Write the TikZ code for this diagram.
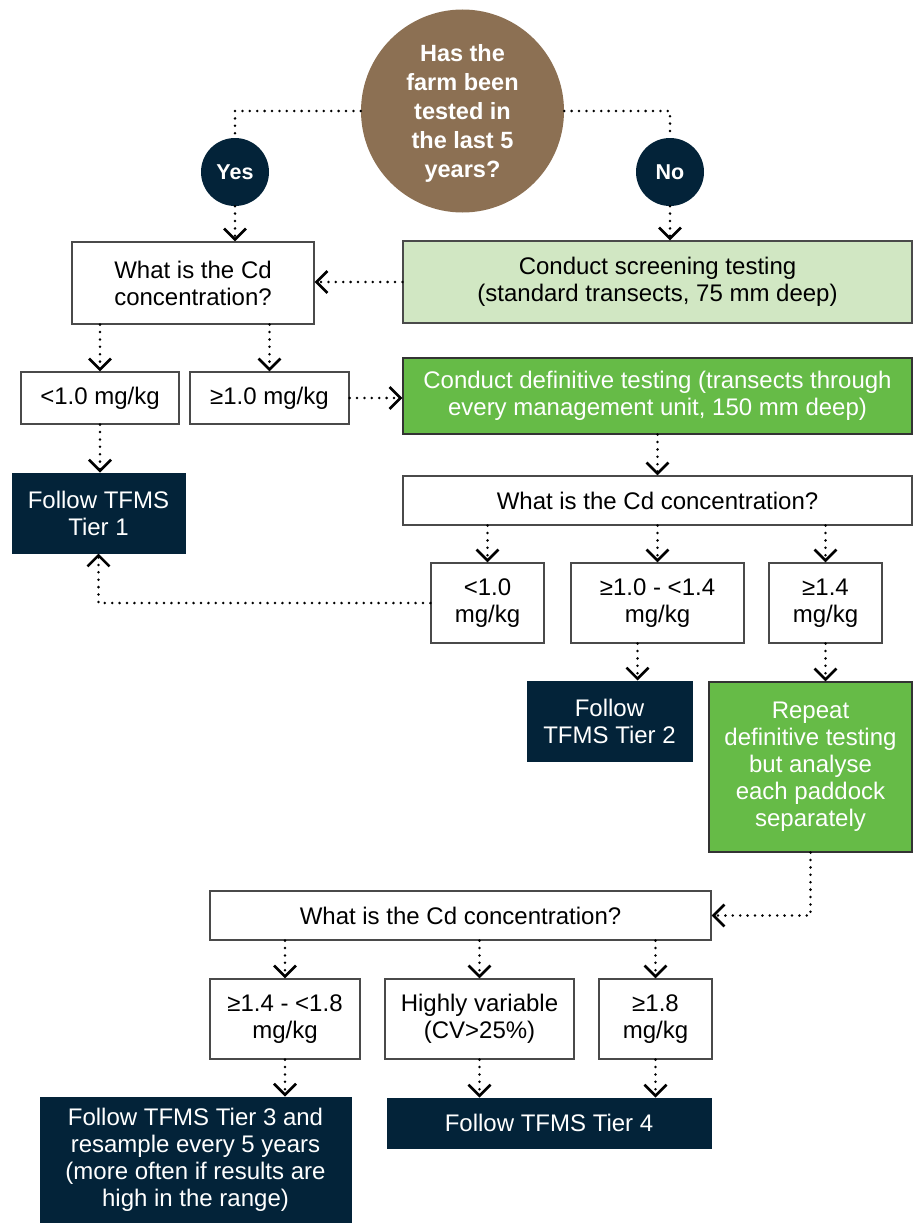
\documentclass[tikz,border=0pt]{standalone}
\usepackage{fontspec}
\setmainfont{Liberation Sans}
\usetikzlibrary{arrows.meta}
\definecolor{brownc}{HTML}{8C7053}
\definecolor{navy}{HTML}{032339}
\definecolor{lgreen}{HTML}{D1E7C3}
\definecolor{dgreen}{HTML}{66BB47}
\definecolor{bordergray}{HTML}{4A4A4A}
\tikzset{
  txt/.style={font=\fontsize{24}{27}\selectfont, align=center, inner sep=0pt},
  wbox/.style={txt, draw=bordergray, line width=1.2pt, fill=white, text=black},
  lgbox/.style={txt, draw=bordergray, line width=1.2pt, fill=lgreen, text=black},
  dgbox/.style={txt, draw=black!80, line width=1.2pt, fill=dgreen, text=white},
  navybox/.style={txt, draw=navy, line width=1pt, fill=navy, text=white},
  dotline/.style={line width=2.8pt, line cap=round, dash pattern=on 0pt off 7.4pt},
  arr/.style={dotline, -{Straight Barb[length=11pt, width=22pt, line width=2.6pt]}},
}
\begin{document}
\begin{tikzpicture}[x=1pt, y=-1pt]
\useasboundingbox (0,0) rectangle (919,1223);
% top question
\node[circle, fill=brownc, minimum size=203pt, inner sep=0pt, text=white, text depth=0pt,
      font=\bfseries\fontsize{23.5}{29.2}\selectfont, align=center] (top) at (462.5,111)
      {Has the\\farm been\\tested in\\the last 5\\years?};
\node[circle, fill=navy, minimum size=68pt, inner sep=0pt, text=white,
      font=\bfseries\fontsize{21.5}{25}\selectfont] (yes) at (235,172) {Yes};
\node[circle, fill=navy, minimum size=68pt, inner sep=0pt, text=white,
      font=\bfseries\fontsize{21.5}{25}\selectfont] (no) at (670,172) {No};
% level 1
\node[wbox, minimum width=242pt, minimum height=82pt] (q1) at (193,283) {What is the Cd\\concentration?};
\node[lgbox, minimum width=509pt, minimum height=82pt] (screen) at (657.5,282) {Conduct screening testing\\(standard transects, 75 mm deep)};
\node[wbox, minimum width=158pt, minimum height=52pt] (lt1) at (100,398) {<1.0 mg/kg};
\node[wbox, minimum width=159pt, minimum height=52pt] (ge1) at (269.5,398) {≥1.0 mg/kg};
\node[dgbox, minimum width=509pt, minimum height=76pt] (defin) at (657.5,396) {Conduct definitive testing (transects through\\every management unit, 150 mm deep)};
\node[navybox, minimum width=173pt, minimum height=80pt] (tier1) at (98.5,513) {Follow TFMS\\Tier 1};
% level 2
\node[wbox, minimum width=509pt, minimum height=49pt] (q2) at (657.5,500.5) {What is the Cd concentration?};
\node[wbox, minimum width=113pt, minimum height=80pt] (b21) at (487.5,603) {<1.0\\mg/kg};
\node[wbox, minimum width=173pt, minimum height=80pt] (b22) at (657.5,603) {≥1.0 - <1.4\\mg/kg};
\node[wbox, minimum width=113pt, minimum height=80pt] (b23) at (825.5,603) {≥1.4\\mg/kg};
\node[navybox, minimum width=165pt, minimum height=80pt] (tier2) at (609.5,721) {Follow\\TFMS Tier 2};
\node[dgbox, minimum width=203pt, minimum height=170pt] (repeat) at (810.5,767) {Repeat\\definitive testing\\but analyse\\each paddock\\separately};
% level 3
\node[wbox, minimum width=501pt, minimum height=49pt] (q3) at (460.5,915.5) {What is the Cd concentration?};
\node[wbox, minimum width=150pt, minimum height=80pt] (b31) at (285,1019) {≥1.4 - <1.8\\mg/kg};
\node[wbox, minimum width=189pt, minimum height=80pt] (b32) at (479.5,1019) {Highly variable\\(CV>25\%)};
\node[wbox, minimum width=113pt, minimum height=80pt] (b33) at (655.5,1019) {≥1.8\\mg/kg};
\node[navybox, minimum width=311pt, minimum height=125pt] (tier3) at (195.5,1159.5) {Follow TFMS Tier 3 and\\resample every 5 years\\(more often if results are\\high in the range)};
\node[navybox, minimum width=324pt, minimum height=50pt] (tier4) at (549,1123) {Follow TFMS Tier 4};
% connectors
\draw[dotline] (top.west) -| (yes.north);
\draw[dotline] (top.east) -| (no.north);
\draw[arr] (yes.south) -- (yes.south |- q1.north);
\draw[arr] (no.south) -- (no.south |- screen.north);
\draw[arr] (screen.west) -- (screen.west -| q1.east);
\draw[arr] (lt1.north |- q1.south) -- (lt1.north);
\draw[arr] (ge1.north |- q1.south) -- (ge1.north);
\draw[arr] (ge1.east) -- (ge1.east -| defin.west);
\draw[arr] (lt1.south) -- (lt1.south |- tier1.north);
\draw[arr] (defin.south) -- (q2.north);
\draw[arr] (b21.north |- q2.south) -- (b21.north);
\draw[arr] (b22.north |- q2.south) -- (b22.north);
\draw[arr] (b23.north |- q2.south) -- (b23.north);
\draw[arr] (b21.west) -| (tier1.south);
\draw[arr] ([xshift=-20pt]b22.south) -- ([xshift=-20pt]b22.south |- tier2.north);
\draw[arr] (b23.south) -- (b23.south |- repeat.north);
\draw[arr] (repeat.south) |- (q3.east);
\draw[arr] (b31.north |- q3.south) -- (b31.north);
\draw[arr] (b32.north |- q3.south) -- (b32.north);
\draw[arr] (b33.north |- q3.south) -- (b33.north);
\draw[arr] (b31.south) -- (b31.south |- tier3.north);
\draw[arr] (b32.south) -- (b32.south |- tier4.north);
\draw[arr] (b33.south) -- (b33.south |- tier4.north);
\end{tikzpicture}
\end{document}
